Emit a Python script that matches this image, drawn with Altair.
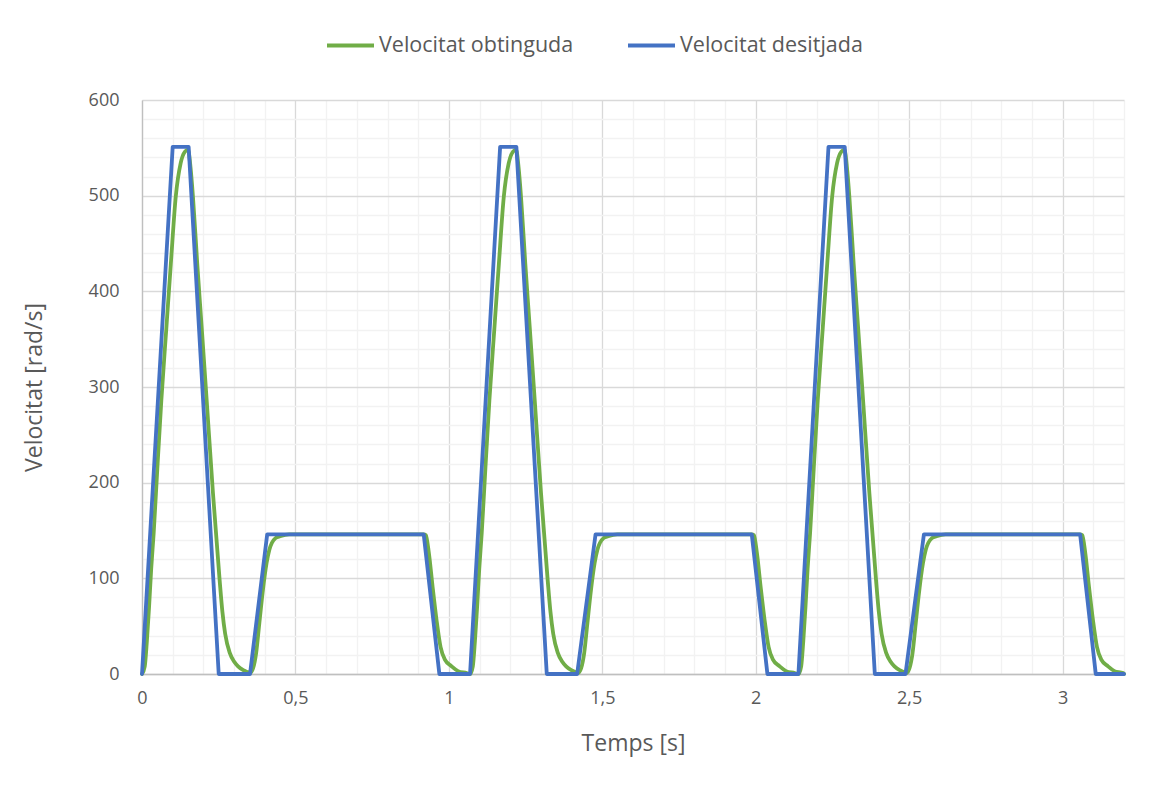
import altair as alt
import pandas as pd

# Desired velocity (trapezoidal profile)
blue_t = [0, 0.100, 0.152, 0.250, 0.352, 0.408, 0.918, 0.969, 1.069,
          1.167, 1.220, 1.319, 1.418, 1.478, 1.987, 2.038, 2.139,
          2.237, 2.290, 2.388, 2.488, 2.548, 3.057, 3.108, 3.200]
blue_v = [0, 551, 551, 0, 0, 146, 146, 0, 0,
          551, 551, 0, 0, 146, 146, 0, 0,
          551, 551, 0, 0, 146, 146, 0, 0]

# Obtained velocity (read per cycle)
green_t1 = [0, 0.009, 0.016, 0.023, 0.030, 0.038, 0.050, 0.063, 0.079, 0.094,
            0.110, 0.126, 0.140, 0.150, 0.158, 0.166, 0.180, 0.195, 0.211, 0.231,
            0.253, 0.262, 0.271, 0.286, 0.300, 0.313, 0.330, 0.345, 0.352, 0.362,
            0.372, 0.382, 0.393, 0.406, 0.415, 0.423, 0.435, 0.450, 0.480, 0.918,
            0.925, 0.935, 0.947, 0.960, 0.973, 0.987, 1.009, 1.030, 1.058]
green_t2 = [1.069, 1.078, 1.085, 1.092, 1.099, 1.107, 1.119, 1.132, 1.148, 1.163,
            1.179, 1.195, 1.209, 1.219, 1.227, 1.235, 1.249, 1.264, 1.280, 1.300,
            1.322, 1.331, 1.340, 1.355, 1.369, 1.382, 1.399, 1.414, 1.421, 1.431,
            1.441, 1.451, 1.462, 1.475, 1.484, 1.492, 1.504, 1.519, 1.549, 1.987,
            1.994, 2.004, 2.016, 2.029, 2.042, 2.056, 2.078, 2.099, 2.127]
green_t3 = [2.139, 2.148, 2.155, 2.162, 2.169, 2.177, 2.189, 2.202, 2.218, 2.233,
            2.249, 2.265, 2.279, 2.289, 2.297, 2.305, 2.319, 2.334, 2.350, 2.370,
            2.392, 2.401, 2.410, 2.425, 2.439, 2.452, 2.469, 2.484, 2.491, 2.501,
            2.511, 2.521, 2.532, 2.545, 2.554, 2.562, 2.574, 2.589, 2.619, 3.057,
            3.064, 3.074, 3.086, 3.099, 3.112, 3.126, 3.148, 3.169, 3.197]
green_v_cycle = [0, 8, 35, 70, 110, 147, 215, 286, 360, 429,
                 499, 534, 546, 548, 530, 499, 429, 360, 285, 190,
                 98, 65, 42, 22, 13, 8, 4, 2, 1, 6,
                 22, 52, 85, 116, 130, 137, 142, 144, 146, 146,
                 145, 126, 91, 56, 28, 15, 8, 3, 1]
green_end_t = [3.200]
green_end_v = [0]

S_OBT = "Velocitat obtinguda"
S_DES = "Velocitat desitjada"

green_t = green_t1 + green_t2 + green_t3 + green_end_t
green_v = green_v_cycle * 3 + green_end_v

df = pd.concat([
    pd.DataFrame({"t": green_t, "v": green_v, "s": S_OBT, "o": range(len(green_t))}),
    pd.DataFrame({"t": blue_t, "v": blue_v, "s": S_DES, "o": range(len(blue_t))}),
])

TXT = "#595959"
FONT = "Open Sans"

x_ticks = [round(i * 0.1, 1) for i in range(0, 33)]
y_ticks = list(range(0, 601, 20))

xenc = alt.X("t:Q", scale=alt.Scale(domain=[0, 3.2], nice=False, zero=False),
             axis=alt.Axis(values=x_ticks, title="Temps [s]",
                           labelExpr="round(datum.value*10) % 5 === 0 ? replace(toString(datum.value), '.', ',') : ''",
                           gridColor={"condition": {"test": "round(datum.value*10) % 5 === 0", "value": "#d9d9d9"}, "value": "#f2f2f2"},
                           gridWidth=1.3, ticks=False, domainColor="#bfbfbf", domainWidth=1.3,
                           labelPadding=15, titlePadding=25, labelFlush=False))
yenc = alt.Y("v:Q", scale=alt.Scale(domain=[0, 600], nice=False),
             axis=alt.Axis(values=y_ticks, title="Velocitat [rad/s]",
                           labelExpr="datum.value % 100 === 0 ? datum.label : ''",
                           gridColor={"condition": {"test": "datum.value % 100 === 0", "value": "#d9d9d9"}, "value": "#f2f2f2"},
                           gridWidth=1.3, ticks=False, domainColor="#bfbfbf", domainWidth=1.3,
                           labelPadding=23, titlePadding=42))

color = alt.Color("s:N", scale=alt.Scale(domain=[S_OBT, S_DES], range=["#70AD47", "#4472C4"]),
                  legend=alt.Legend(title=None, orient="none", direction="horizontal",
                                    legendX=183, legendY=-80, symbolType="stroke",
                                    symbolSize=2209, symbolStrokeWidth=3.8,
                                    labelFontSize=21.5, labelColor=TXT, labelFont=FONT,
                                    labelLimit=400, columnPadding=46, labelOffset=3))

base = alt.Chart(df).encode(x=xenc, y=yenc, color=color, order="o:Q")

green = base.transform_filter(alt.datum.s == S_OBT).mark_line(
    strokeWidth=3.8, strokeJoin="round", strokeCap="round", interpolate="monotone")
blue = base.transform_filter(alt.datum.s == S_DES).mark_line(
    strokeWidth=3.8, strokeJoin="round", strokeCap="round")

chart = alt.layer(green, blue).properties(
    width=982, height=574,
    autosize=alt.AutoSizeParams(type="none"),
    padding={"left": 142, "top": 100, "right": 44, "bottom": 111},
    background="white",
).configure_axis(
    labelFont=FONT, titleFont=FONT, labelColor=TXT, titleColor=TXT,
    labelFontSize=18, titleFontSize=23, titleFontWeight="normal",
).configure_view(stroke=None)

chart.save("out.html", embed_options={"renderer": "svg", "actions": False})
